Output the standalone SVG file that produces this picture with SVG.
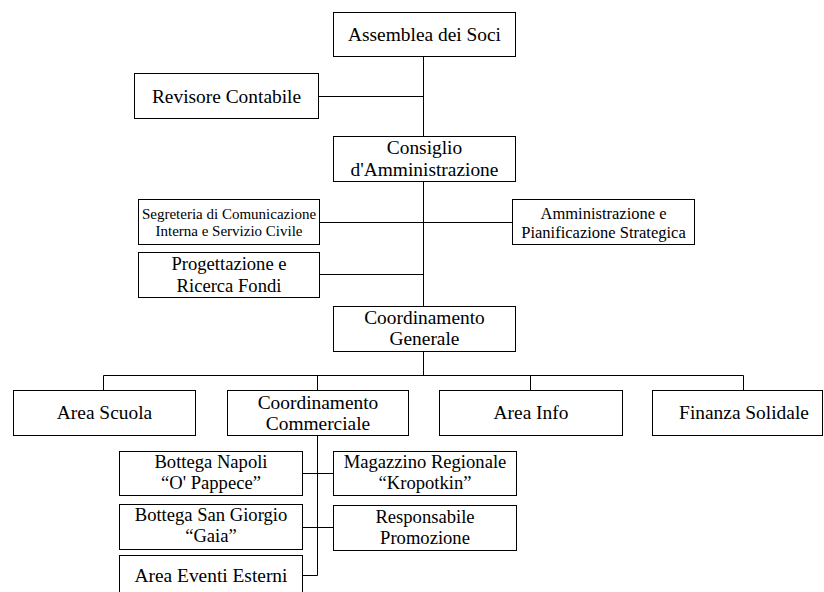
<svg xmlns="http://www.w3.org/2000/svg" width="824" height="592" viewBox="0 0 824 592">
<style>
rect{fill:#fff;stroke:#000;stroke-width:1}
text{font-family:"Liberation Serif","Times New Roman",serif;font-size:19.4px;fill:#000;text-anchor:middle}
.t{font-size:18.6px}
.s15{font-size:15px}
.s17{font-size:16.5px}
#connectors path{fill:none;stroke:#000;stroke-width:1}
</style>
<rect x="0" y="0" width="824" height="592" style="stroke:none;fill:#fff"/>
<g id="connectors">
<path d="M423.5 56.5V136.5M318.5 96.5H423.5M423.5 181.5V306.5M319.5 222.5H512.5M319.5 274.5H423.5M423.5 351.5V375.5M103.5 390.5V375.5H743.5V390.5M317.5 375.5V390.5M530.5 375.5V390.5M317.5 435.5V575.5H302.5M302.5 473.5H333.5M302.5 527.5H333.5"/>
</g>
<g id="assemblea"><rect x="333.5" y="12.5" width="182" height="44"/><text x="424.5" y="40.5">Assemblea dei Soci</text></g>
<g id="revisore"><rect x="134.5" y="73.5" width="184" height="45"/><text x="226.5" y="103">Revisore Contabile</text></g>
<g id="consiglio"><rect x="333.5" y="136.5" width="182" height="45"/><text x="424.5" y="153.5">Consiglio</text><text x="424.5" y="176">d'Amministrazione</text></g>
<g id="segreteria"><rect x="138.5" y="199.5" width="181" height="45"/><text class="s15" x="229" y="218.5">Segreteria di Comunicazione</text><text class="s15" x="229" y="236">Interna e Servizio Civile</text></g>
<g id="amministrazione"><rect x="512.5" y="199.5" width="182" height="45"/><text class="s17" x="603.5" y="218.5">Amministrazione e</text><text class="s17" x="603.5" y="237.5">Pianificazione Strategica</text></g>
<g id="progettazione"><rect x="138.5" y="252.5" width="181" height="45"/><text class="t" x="229" y="270">Progettazione e</text><text class="t" x="229" y="291.5">Ricerca Fondi</text></g>
<g id="coordGenerale"><rect x="333.5" y="306.5" width="182" height="45"/><text x="424.5" y="323.5">Coordinamento</text><text x="424.5" y="345">Generale</text></g>
<g id="areaScuola"><rect x="13.5" y="390.5" width="182" height="45"/><text x="104.5" y="419">Area Scuola</text></g>
<g id="coordCommerciale"><rect x="227.5" y="390.5" width="181" height="45"/><text x="318" y="408.5">Coordinamento</text><text x="318" y="430">Commerciale</text></g>
<g id="areaInfo"><rect x="439.5" y="390.5" width="183" height="45"/><text x="531" y="419">Area Info</text></g>
<g id="finanzaSolidale"><rect x="652.5" y="390.5" width="170" height="45"/><text x="744" y="419">Finanza Solidale</text></g>
<g id="bottegaNapoli"><rect x="119.5" y="451.5" width="183" height="44"/><text class="t" x="211" y="467.5">Bottega Napoli</text><text class="t" x="211" y="489">“O' Pappece”</text></g>
<g id="bottegaSanGiorgio"><rect x="119.5" y="504.5" width="183" height="45"/><text class="t" x="211" y="520.5">Bottega San Giorgio</text><text class="t" x="211" y="542">“Gaia”</text></g>
<g id="areaEventi"><rect x="119.5" y="555.5" width="183" height="50"/><text x="211" y="582">Area Eventi Esterni</text></g>
<g id="magazzino"><rect x="333.5" y="451.5" width="183" height="44"/><text class="t" x="425" y="467.5">Magazzino Regionale</text><text class="t" x="425" y="489">“Kropotkin”</text></g>
<g id="responsabile"><rect x="333.5" y="505.5" width="183" height="45"/><text class="t" x="425" y="522.5">Responsabile</text><text class="t" x="425" y="544">Promozione</text></g>
</svg>
